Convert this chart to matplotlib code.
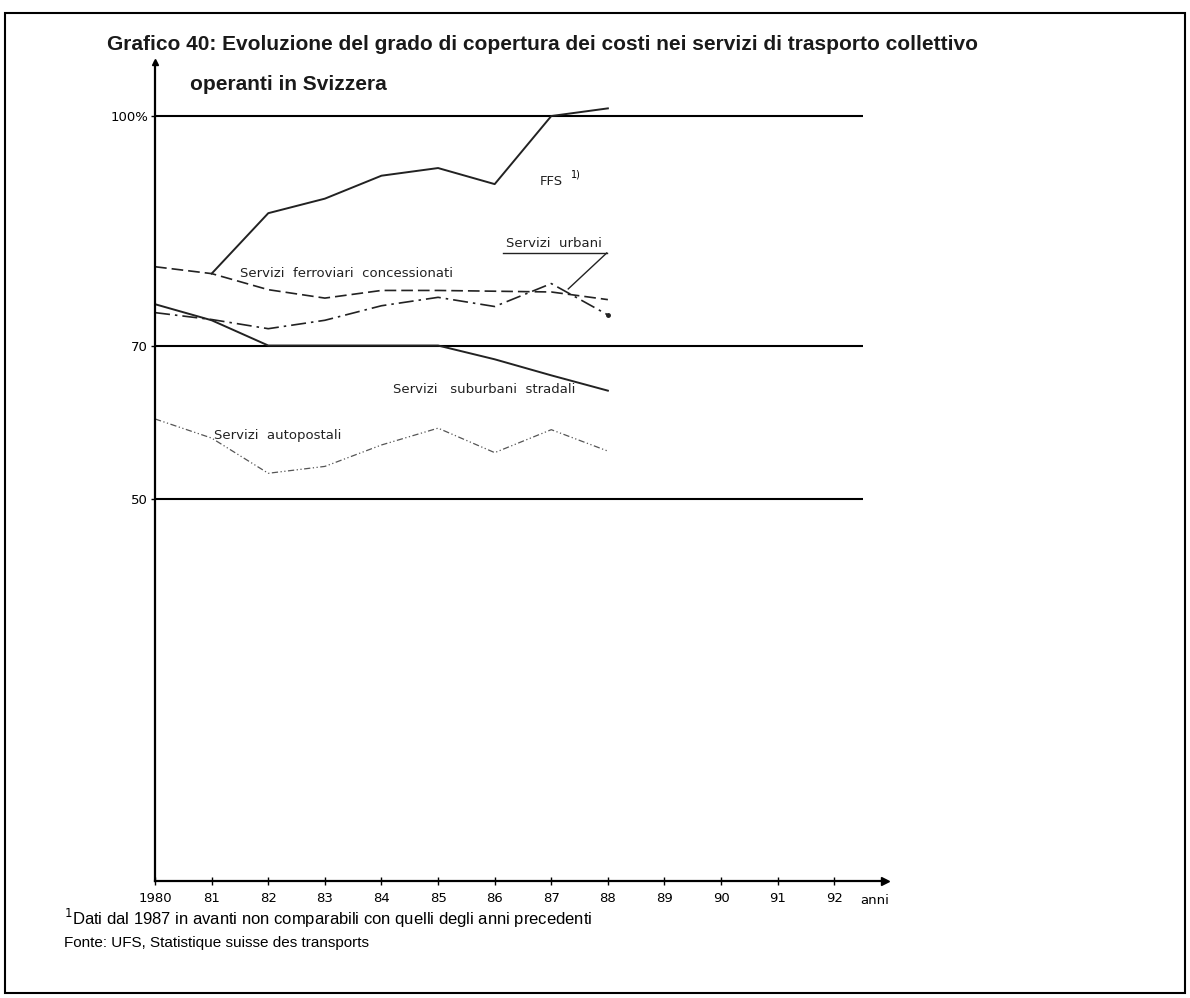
import numpy as np
import matplotlib.pyplot as plt

# data (grado di copertura dei costi, %)
anni = [1980, 1981, 1982, 1983, 1984, 1985, 1986, 1987, 1988]
ffs = [np.nan, 79.4, 87.3, 89.2, 92.2, 93.2, 91.1, 100.0, 101.0]
ferroviari = [80.3, 79.4, 77.3, 76.2, 77.2, 77.2, 77.1, 77.0, 76.0]
urbani = [74.3, 73.4, 72.2, 73.3, 75.2, 76.3, 75.1, 78.1, 74.0]
suburbani = [75.4, 73.3, 70.0, 70.0, 70.0, 70.0, 68.2, 66.1, 64.1]
autopostali = [60.4, 57.9, 53.3, 54.2, 57.0, 59.2, 56.0, 59.0, 56.2]

tick_anni = list(range(1980, 1993))
tick_labels = ["1980", "81", "82", "83", "84", "85", "86", "87", "88", "89", "90", "91", "92"]
livelli = [50, 70, 100]
livelli_labels = ["50", "70", "100%"]

heading = ["Liberation Sans", "DejaVu Sans"]
lettering = "DejaVu Sans"

fig = plt.figure(figsize=(11.9, 9.98), dpi=100)
ax = fig.add_axes([0.1303, 0.1172, 0.6136, 0.8202])
ax.set_xlim(1980, 1992.9)
ax.set_ylim(0, 107)

# frame round the whole figure
fig.patches.append(plt.Rectangle((0.004, 0.005), 0.992, 0.982, transform=fig.transFigure,
                                 fill=False, edgecolor="black", linewidth=1.5))

# reference lines
for v in livelli:
    ax.plot([1980, 1992.5], [v, v], color="black", linewidth=1.5, solid_capstyle="butt")

# series
ax.plot(anni, ffs, color="#222222", linewidth=1.4)
ax.plot(anni, ferroviari, color="#222222", linewidth=1.2, dashes=(7, 3))
ax.plot(anni, urbani, color="#222222", linewidth=1.2, dashes=(9, 3, 1.5, 3))
ax.plot(anni, suburbani, color="#222222", linewidth=1.4)
ax.plot(anni, autopostali, color="#555555", linewidth=0.9, dashes=(5, 2, 1, 2, 1, 2))
ax.plot(anni[-1], urbani[-1], "o", color="#222222", markersize=2.5)

# axes with arrows
for s in ["top", "right"]:
    ax.spines[s].set_visible(False)
ax.spines["left"].set_linewidth(1.6)
ax.spines["bottom"].set_linewidth(1.6)
ax.plot(1, 0, ">k", markersize=6, transform=ax.transAxes, clip_on=False)
ax.plot(0, 1, "^k", markersize=4, transform=ax.transAxes, clip_on=False)

ax.set_xticks(tick_anni)
ax.set_xticklabels(tick_labels, fontsize=9.5, family=lettering)
ax.tick_params(axis="x", direction="inout", length=6, width=1, pad=5)
ax.set_yticks(livelli)
ax.set_yticklabels(livelli_labels, fontsize=9.5, family=lettering)
ax.tick_params(axis="y", direction="out", length=3, width=1, pad=2)
ax.text(1992.45, -1.7, "anni", fontsize=9.5, family=lettering, va="top", ha="left")

# labels on the lines
lab = dict(fontsize=9.5, family=lettering, color="#222222")
ax.text(1986.8, 91.5, "FFS", va="center", **lab)
ax.text(1987.35, 92.4, "1)", fontsize=7, family=lettering, va="center")
ax.text(1981.5, 79.4, "Servizi  ferroviari  concessionati", va="center", **lab)
ax.text(1986.2, 82.5, "Servizi  urbani", va="bottom", **lab)
ax.plot([1986.15, 1987.98], [82.1, 82.1], color="#222222", linewidth=1)
ax.plot([1987.98, 1987.3], [82.1, 77.4], color="#222222", linewidth=1)
ax.text(1984.2, 64.2, "Servizi   suburbani  stradali", va="center", **lab)
ax.text(1981.05, 58.3, "Servizi  autopostali", va="center", **lab)

# title and notes
fig.text(0.09, 0.955, "Grafico 40: Evoluzione del grado di copertura dei costi nei servizi di trasporto collettivo",
         fontsize=15, fontweight="bold", family=heading, va="center", color="#1a1a1a")
fig.text(0.16, 0.915, "operanti in Svizzera", fontsize=15, fontweight="bold", family=heading,
         va="center", color="#1a1a1a")
fig.text(0.054, 0.080, "$^1$Dati dal 1987 in avanti non comparabili con quelli degli anni precedenti",
         fontsize=12, family=heading, va="center")
fig.text(0.054, 0.055, "Fonte: UFS, Statistique suisse des transports", fontsize=11, family=heading, va="center")

fig.savefig("out.png", dpi=100)
